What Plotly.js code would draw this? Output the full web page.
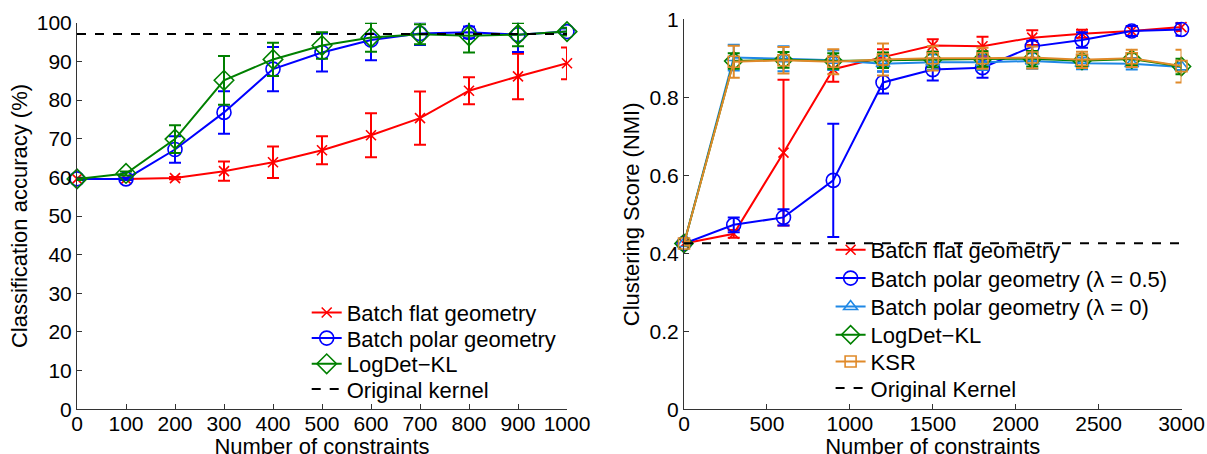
<!DOCTYPE html>
<html>
<head>
<meta charset="utf-8">
<script src="https://cdn.plot.ly/plotly-3.0.1.min.js"></script>
<style>html,body{margin:0;padding:0;background:#fff;overflow:hidden;}#chart{width:1207px;height:474px;}</style>
</head>
<body>
<div id="chart"></div>
<script>
// ---------- Left panel: classification accuracy ----------
const leftX = [0, 100, 200, 300, 400, 500, 600, 700, 800, 900, 1000];
const leftFlat = [59.6, 59.6, 59.8, 61.6, 63.9, 67.0, 70.9, 75.3, 82.4, 86.1, 89.5];
const leftFlatErr = [0.2, 0.2, 0.3, 2.5, 4.1, 3.6, 5.7, 6.9, 3.5, 5.9, 4.1];
const leftPolar = [59.6, 59.6, 67.2, 76.8, 88.0, 92.3, 95.5, 97.2, 97.5, 96.9, 97.7];
const leftPolarErr = [0.2, 0.3, 3.4, 5.5, 5.7, 4.9, 5.2, 3.0, 1.5, 4.5, 0.8];
const leftLogDet = [59.6, 61.0, 69.9, 85.1, 90.5, 94.1, 96.2, 97.0, 96.6, 96.9, 97.7];
const leftLogDetErr = [0.3, 0.5, 3.6, 6.3, 4.3, 3.4, 3.7, 2.6, 4.3, 3.0, 1.0];
const leftOriginal = 97.1;

// ---------- Right panel: clustering score (NMI) ----------
const rightX = [0, 300, 600, 900, 1200, 1500, 1800, 2100, 2400, 2700, 3000];
const rightFlat = [0.425, 0.450, 0.658, 0.872, 0.903, 0.933, 0.931, 0.953, 0.963, 0.970, 0.980];
const rightFlatErr = [0.003, 0.010, 0.187, 0.032, 0.020, 0.016, 0.024, 0.019, 0.010, 0.012, 0.010];
const rightPolar05 = [0.425, 0.473, 0.492, 0.587, 0.838, 0.871, 0.876, 0.930, 0.947, 0.970, 0.974];
const rightPolar05Err = [0.003, 0.019, 0.021, 0.145, 0.028, 0.028, 0.026, 0.015, 0.020, 0.013, 0.016];
const rightPolar0 = [0.425, 0.902, 0.899, 0.895, 0.886, 0.890, 0.890, 0.893, 0.887, 0.886, 0.878];
const rightPolar0Err = [0.005, 0.033, 0.032, 0.025, 0.020, 0.020, 0.020, 0.020, 0.015, 0.015, 0.010];
const rightLogDet = [0.425, 0.893, 0.896, 0.893, 0.895, 0.897, 0.898, 0.899, 0.894, 0.898, 0.879];
const rightLogDetErr = [0.005, 0.020, 0.020, 0.020, 0.020, 0.020, 0.020, 0.020, 0.015, 0.015, 0.020];
const rightKSR = [0.425, 0.891, 0.895, 0.891, 0.897, 0.900, 0.900, 0.902, 0.896, 0.900, 0.880];
const rightKSRErr = [0.005, 0.041, 0.034, 0.032, 0.041, 0.031, 0.027, 0.028, 0.021, 0.022, 0.042];
const rightOriginal = 0.4256;

const FONT = 'Liberation Sans, Arial, Helvetica, sans-serif';
const RED = '#ff0000', BLUE = '#0000ff', GREEN = '#008000', LBLUE = '#1f88e5', ORANGE = '#e08a2a';
// The figure is drawn a little taller than the 454 px window so that the x-axis
// titles are not squeezed up against the tick labels.
const W = 1207, H = 454, EXTRA = 20;

function series(x, y, err, color, symbol, size, name, xa, ya, legend) {
  return {
    x: x, y: y, name: name, type: 'scatter', mode: 'lines+markers',
    xaxis: xa, yaxis: ya, legend: legend, cliponaxis: false,
    line: {color: color, width: 2},
    marker: {symbol: symbol, size: size, color: color, line: {color: color, width: 1.6}},
    error_y: {type: 'data', array: err, visible: true, color: color, thickness: 2, width: 6}
  };
}
function dashed(xs, v, name, xa, ya, legend) {
  return {x: [xs[0], xs[xs.length - 1]], y: [v, v], name: name, type: 'scatter', mode: 'lines',
          xaxis: xa, yaxis: ya, legend: legend, line: {color: '#000', width: 2, dash: 'dash'}};
}

const traces = [
  series(leftX, leftFlat, leftFlatErr, RED, 'x-thin', 10, 'Batch flat geometry', 'x', 'y', 'legend'),
  series(leftX, leftPolar, leftPolarErr, BLUE, 'circle-open', 14, 'Batch polar geometry', 'x', 'y', 'legend2'),
  series(leftX, leftLogDet, leftLogDetErr, GREEN, 'diamond-open', 15, 'LogDet\u2212KL', 'x', 'y', 'legend3'),
  dashed(leftX, leftOriginal, 'Original kernel', 'x', 'y', 'legend4'),

  series(rightX, rightFlat, rightFlatErr, RED, 'x-thin', 10, 'Batch flat geometry', 'x2', 'y2', 'legend5'),
  series(rightX, rightPolar05, rightPolar05Err, BLUE, 'circle-open', 14, 'Batch polar geometry (\u03bb = 0.5)', 'x2', 'y2', 'legend6'),
  series(rightX, rightPolar0, rightPolar0Err, LBLUE, 'triangle-up-open', 12, 'Batch polar geometry (\u03bb = 0)', 'x2', 'y2', 'legend7'),
  series(rightX, rightLogDet, rightLogDetErr, GREEN, 'diamond-open', 14, 'LogDet\u2212KL', 'x2', 'y2', 'legend8'),
  series(rightX, rightKSR, rightKSRErr, ORANGE, 'square-open', 11, 'KSR', 'x2', 'y2', 'legend9'),
  dashed(rightX, rightOriginal, 'Original Kernel', 'x2', 'y2', 'legend10')
];

const axisCommon = {
  showgrid: false, zeroline: false, showline: true, linecolor: '#333', linewidth: 1,
  ticks: 'inside', ticklen: 5, tickcolor: '#333', tickwidth: 1, mirror: false,
  automargin: false, tickfont: {family: FONT, size: 21, color: '#000'}
};
const titleFont = {family: FONT, size: 22, color: '#000'};

function leg(xpx, ypx) {
  return {x: xpx / W, xanchor: 'left', y: (H - ypx) / H, yanchor: 'middle',
          bgcolor: 'rgba(0,0,0,0)', borderwidth: 0, itemwidth: 30,
          font: {family: FONT, size: 22, color: '#000'}};
}

const layout = {
  width: W, height: H + EXTRA,
  margin: {l: 0, r: 0, t: 0, b: EXTRA},
  paper_bgcolor: '#fff', plot_bgcolor: 'rgba(0,0,0,0)',
  font: {family: FONT, size: 21, color: '#000'},
  showlegend: true,
  xaxis: Object.assign({}, axisCommon, {
    domain: [77 / W, 567 / W], range: [0, 1000], dtick: 100, tick0: 0, anchor: 'y',
    ticklabelstandoff: -5,
    title: {text: 'Number of constraints', font: titleFont, standoff: 0}
  }),
  yaxis: Object.assign({}, axisCommon, {
    domain: [(H - 409.3) / H, (H - 22.7) / H], range: [0, 100], dtick: 10, tick0: 0, anchor: 'x',
    title: {text: 'Classification accuracy (%)', font: titleFont, standoff: 3}
  }),
  xaxis2: Object.assign({}, axisCommon, {
    domain: [684 / W, 1181.5 / W], range: [0, 3000], dtick: 500, tick0: 0, anchor: 'y2',
    ticklabelstandoff: -5,
    title: {text: 'Number of constraints', font: titleFont, standoff: 0}
  }),
  yaxis2: Object.assign({}, axisCommon, {
    domain: [(H - 409.3) / H, (H - 19.3) / H], range: [0, 1], dtick: 0.2, tick0: 0, anchor: 'x2',
    title: {text: 'Clustering Score (NMI)', font: titleFont, standoff: 3}
  }),
  legend: leg(306.7, 312.7),
  legend2: leg(306.7, 338.3),
  legend3: leg(306.7, 364),
  legend4: leg(306.7, 389.3),
  legend5: leg(830.6, 250),
  legend6: leg(830.6, 278.3),
  legend7: leg(830.6, 306.7),
  legend8: leg(830.6, 335),
  legend9: leg(830.6, 361.7),
  legend10: leg(830.6, 388.3)
};

Plotly.newPlot('chart', traces, layout, {displayModeBar: false, staticPlot: true});
</script>
</body>
</html>
